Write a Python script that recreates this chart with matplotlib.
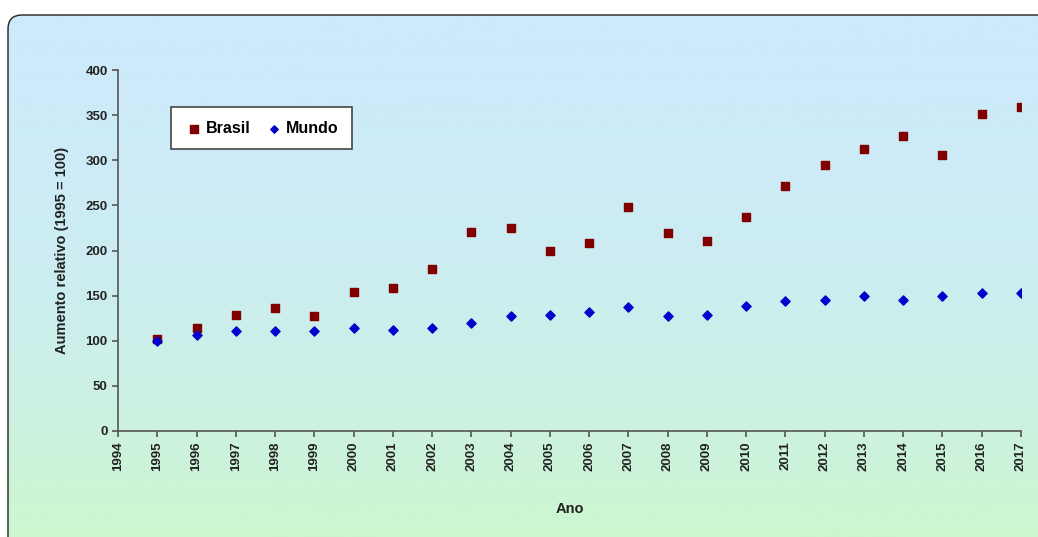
import matplotlib.pyplot as plt
import numpy as np
from matplotlib.patches import FancyBboxPatch

plt.rcParams['font.family'] = ['Liberation Sans', 'DejaVu Sans']

anos = list(range(1995, 2018))
brasil = [102, 114, 128, 136, 127, 154, 159, 179, 220, 225, 199, 208, 248,
          219, 211, 237, 272, 295, 313, 327, 306, 351, 359]
mundo = [100, 106, 111, 111, 111, 114, 112, 114, 120, 127, 128, 132, 137,
         127, 128, 139, 144, 145, 150, 145, 150, 153, 153]

fig = plt.figure(figsize=(10.38, 5.37), dpi=100)
fig.patch.set_facecolor('white')

# gradient background in a rounded box
bg = fig.add_axes([0, 0, 1, 1])
bg.set_xlim(0, 1038)
bg.set_ylim(537, 0)
bg.axis('off')
top = np.array([0.80, 0.92, 0.98])
bot = np.array([0.80, 0.97, 0.80])
t = np.linspace(0, 1, 256) ** 2.2
t = t[:, None, None]
grad = top * (1 - t) + bot * t
grad = np.repeat(grad, 2, axis=1)
im = bg.imshow(grad, extent=[8, 1060, 545, 15], aspect='auto', zorder=0)
box = FancyBboxPatch((8, 15), 1060, 560, boxstyle='round,pad=0,rounding_size=14',
                     facecolor='none', edgecolor='#222222', linewidth=1.0, zorder=1)
bg.add_patch(box)
im.set_clip_path(box)

ax = fig.add_axes([0.1137, 0.1974, 0.8699, 0.6722])
ax.set_facecolor('none')
ax.scatter(anos, brasil, marker='s', s=40, color='#800000', label='Brasil', zorder=3)
ax.scatter(anos, mundo, marker='D', s=22, color='#0000CC', label='Mundo', zorder=3)

ax.set_xlim(1994, 2017)
ax.set_ylim(0, 400)
ax.set_xticks(range(1994, 2018))
ax.set_xticklabels([str(a) for a in range(1994, 2018)], rotation=90,
                   fontweight='bold', fontsize=9.5, color='#222222')
ax.set_yticks(range(0, 401, 50))
ax.set_yticklabels([str(v) for v in range(0, 401, 50)], fontweight='bold',
                   fontsize=9.5, color='#222222')
for s in ['top', 'right']:
    ax.spines[s].set_visible(False)
for s in ['left', 'bottom']:
    ax.spines[s].set_color('#555555')
    ax.spines[s].set_linewidth(1.2)
ax.tick_params(direction='out', length=4, color='#555555', width=1.2)
ax.set_xlabel('Ano', fontweight='bold', fontsize=10.5, labelpad=22, color='#222222')
ax.set_ylabel('Aumento relativo (1995 = 100)', fontweight='bold', fontsize=10.5,
              labelpad=12, color='#222222')

leg = ax.legend(loc='upper left', bbox_to_anchor=(0.059, 0.897), ncol=2,
                frameon=True, fancybox=False, handletextpad=0.1, columnspacing=0.9,
                borderpad=0.85, prop={'weight': 'bold', 'size': 11.5},
                markerscale=0.8, handlelength=1.2, borderaxespad=0)
leg.get_frame().set_edgecolor('#444444')
leg.get_frame().set_linewidth(1.2)
leg.get_frame().set_facecolor('white')
leg.get_frame().set_alpha(1)

fig.savefig('out.png', dpi=100)
